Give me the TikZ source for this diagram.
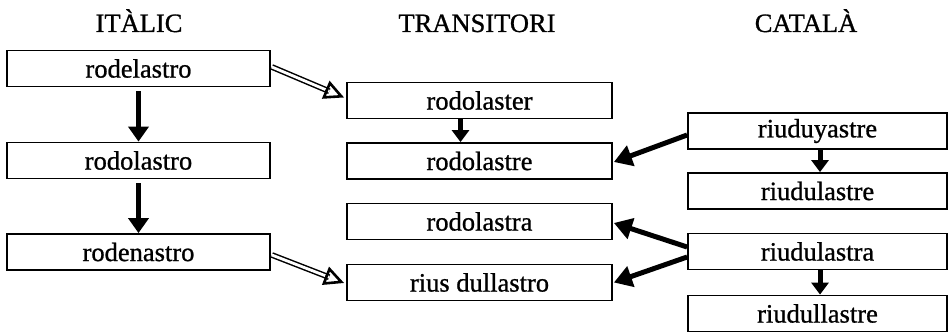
\documentclass[tikz,border=0pt]{standalone}
\usepackage{fontspec}
\setmainfont{Liberation Serif}[FakeBold=0.9]
\usetikzlibrary{arrows.meta,calc}
\begin{document}
\begin{tikzpicture}[x=1pt,y=-1pt,
  every node/.style={font=\fontsize{26.5}{30}\selectfont},
  wbox/.style={draw=black, line width=1.8pt, minimum height=36pt, inner sep=0pt},
  lbox/.style={wbox, minimum width=263pt},
  mbox/.style={wbox, minimum width=265pt},
  rbox/.style={wbox, minimum width=259pt},
  head/.style={anchor=base},
  down/.style={line width=5pt, -{Triangle[length=15pt,width=20pt]}},
  small/.style={line width=5pt, -{Triangle[length=12pt,width=17pt]}},
  thick/.style={line width=5pt, -{Triangle[length=18pt,width=21pt]}},
  dshaft/.style={double=white, double distance=2.8pt, line width=1.5pt},
  dhead/.style={line width=2.6pt, -{Triangle[open,length=20pt,width=19pt]}}
]
\useasboundingbox (0,0) rectangle (949,334);
% headers
\node[head] (h1) at (139,32) {ITÀLIC};
\node[head] (h2) at (477,32) {TRANSITORI};
\node[head] (h3) at (806,32) {CATALÀ};
% left column
\node[lbox] (l1) at (138.5,68.5) {rodelastro};
\node[lbox] (l2) at (138.5,160.5) {rodolastro};
\node[lbox] (l3) at (138.5,252) {rodenastro};
% middle column
\node[mbox] (m1) at (479.5,100.5) {rodolaster};
\node[mbox] (m2) at (479.5,161) {rodolastre};
\node[mbox] (m3) at (479.5,221.5) {rodolastra};
\node[mbox] (m4) at (479.5,282.5) {rius dullastro};
% right column
\node[rbox] (r1) at (817.5,131) {riuduyastre};
\node[rbox] (r2) at (817.5,191) {riudulastre};
\node[rbox] (r3) at (817.5,251.5) {riudulastra};
\node[rbox] (r4) at (817.5,313.5) {riudullastre};
% vertical arrows
\draw[down] ($(l1.south)+(0,4)$) -- (l2.north);
\draw[down] ($(l2.south)+(0,4)$) -- (l3.north);
\draw[small] ($(m1.south)+(-19,0)$) -- ($(m2.north)+(-19,0)$);
\draw[small] ($(r1.south)+(2.5,0)$) -- ($(r2.north)+(2.5,0)$);
\draw[small] ($(r3.south)+(2.5,0)$) -- ($(r4.north)+(2.5,0)$);
% thick diagonal arrows
\draw[thick] ($(r1.west)+(0,4)$) -- ($(m2.east)+(1,1)$);
\draw[thick] ($(r3.west)+(0,-4.5)$) -- ($(m3.east)+(1,1.5)$);
\draw[thick] ($(r3.west)+(0,5.5)$) -- ($(m4.east)+(1,0)$);
% hollow double arrows
\coordinate (a1) at ($(l1.east)+(1,-1.5)$);
\coordinate (b1) at ($(m1.west)+(-2,-3)$);
\draw[dshaft] (a1) -- ($(b1)!16pt!(a1)$);
\draw[dhead] ($(b1)!20pt!(a1)$) -- (b1);
\coordinate (a2) at ($(l3.east)+(1,3)$);
\coordinate (b2) at ($(m4.west)+(-2,0.5)$);
\draw[dshaft] (a2) -- ($(b2)!16pt!(a2)$);
\draw[dhead] ($(b2)!20pt!(a2)$) -- (b2);
\end{tikzpicture}
\end{document}
